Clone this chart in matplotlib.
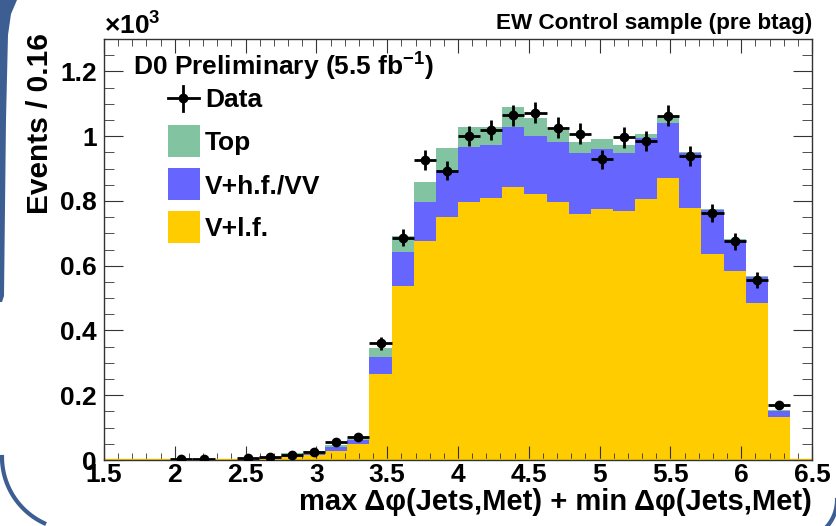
import numpy as np
import matplotlib
matplotlib.use("Agg")
import matplotlib.pyplot as plt
from matplotlib.patches import Rectangle, Polygon
from matplotlib.lines import Line2D
from matplotlib.ticker import MultipleLocator, FuncFormatter

plt.rcParams['font.family'] = ['Liberation Sans', 'DejaVu Sans']
plt.rcParams['font.weight'] = 'bold'
plt.rcParams['mathtext.fontset'] = 'custom'
plt.rcParams['mathtext.rm'] = 'Liberation Sans:bold'
plt.rcParams['mathtext.it'] = 'Liberation Sans:bold'
plt.rcParams['mathtext.default'] = 'rm'

# 32 bins between 1.5 and 6.5 (width ~0.16)
x_lo, x_hi, n_bins = 1.5, 6.5, 32

# events per bin
v_lf = [0, 0, 0, 0, 0, 0, 2, 4, 9, 15, 28, 48, 265, 538, 676, 749,
        797, 808, 844, 821, 797, 761, 774, 770, 806, 872, 779, 636, 583, 486, 132, 0]
v_hf = [0, 0, 0, 0, 0, 0, 1, 1, 3, 5, 13, 14, 54, 103, 121, 146,
        170, 164, 185, 179, 184, 186, 186, 177, 187, 170, 168, 136, 96, 78, 20, 0]
top = [0, 0, 0, 0, 0, 0, 1, 2, 9, 8, 5, 2, 28, 51, 60, 69,
       62, 57, 60, 55, 38, 36, 30, 25, 13, 18, 3, 3, 3, 4, 3, 0]
data = [0, 0, 0, 3, 3, 0, 5, 8, 16, 26, 55, 70, 360, 687, 926, 893,
        1000, 1019, 1065, 1073, 1026, 1008, 928, 996, 986, 1063, 938, 764, 676, 556, 170, 0]

c_lf = '#FFCC00'
c_hf = '#6666FF'
c_top = '#82C4A2'
frame_col = '#3D5E93'

W, H = 837, 526


def fx(px):
    return px / W


def fy(py):
    return 1 - py / H


edges = np.linspace(x_lo, x_hi, n_bins + 1)
centers = 0.5 * (edges[1:] + edges[:-1])
half = 0.5 * (edges[1] - edges[0])

lf = np.array(v_lf) / 1000.
hf = lf + np.array(v_hf) / 1000.
tt = hf + np.array(top) / 1000.
d = np.array(data, dtype=float)

fig = plt.figure(figsize=(W / 100, H / 100), dpi=100)
ax = fig.add_axes([fx(104), fy(460), fx(812) - fx(104), fy(39) - fy(460)])

ax.stairs(tt, edges, baseline=hf, fill=True, color=c_top, lw=0)
ax.stairs(hf, edges, baseline=lf, fill=True, color=c_hf, lw=0)
ax.stairs(lf, edges, fill=True, color=c_lf, lw=0)
ax.plot([x_lo, x_hi], [0, 0], color=c_lf, lw=2.5, solid_capstyle='butt', zorder=2)

m = d > 0
ax.errorbar(centers[m], d[m] / 1000., xerr=half, yerr=np.sqrt(d[m]) / 1000.,
            fmt='o', color='black', ms=6, elinewidth=2, capsize=0, zorder=5)

ax.set_xlim(x_lo, x_hi)
ax.set_ylim(0, 1.3)
ax.xaxis.set_major_locator(MultipleLocator(0.5))
ax.xaxis.set_minor_locator(MultipleLocator(0.1))
ax.yaxis.set_major_locator(MultipleLocator(0.2))
ax.yaxis.set_minor_locator(MultipleLocator(0.05))
fmt = FuncFormatter(lambda v, p: '%g' % round(v, 2))
ax.xaxis.set_major_formatter(fmt)
ax.yaxis.set_major_formatter(fmt)
ax.tick_params(which='both', direction='in', top=True, right=True, labelsize=19, color='#333333')
ax.tick_params(axis='x', which='major', length=10, pad=2)
ax.tick_params(axis='x', which='minor', length=5)
ax.tick_params(axis='y', which='major', length=14, pad=5)
ax.tick_params(axis='y', which='minor', length=7)
for s in ax.spines.values():
    s.set_color('#333333')
    s.set_linewidth(1)

# legend
ax.text(fx(133), fy(76), 'D0 Preliminary (5.5 fb$^{-1}$)', transform=fig.transFigure,
        fontsize=19, va='baseline', ha='left')
rows = [98, 141, 184, 227]
fig.add_artist(Line2D([fx(168), fx(199)], [fy(rows[0])] * 2, color='black', lw=2))
fig.add_artist(Line2D([fx(183.5)] * 2, [fy(86), fy(111)], color='black', lw=2))
fig.add_artist(Line2D([fx(183.5)], [fy(rows[0])], marker='o', color='black', ms=6))
for r, col in zip(rows[1:], [c_top, c_hf, c_lf]):
    fig.add_artist(Rectangle((fx(168), fy(r + 16)), fx(32), fy(0) - fy(32),
                             transform=fig.transFigure, color=col, lw=0))
for r, lab in zip(rows, ['Data', 'Top', 'V+h.f./VV', 'V+l.f.']):
    fig.text(fx(205), fy(r + 9), lab, fontsize=19, va='baseline', ha='left')

fig.text(fx(812), fy(29), 'EW Control sample (pre btag)', fontsize=16.2, ha='right', va='baseline')
fig.text(fx(104), fy(35), r'$\times$10$^{3}$', fontsize=19, ha='left', va='baseline')
fig.text(fx(812), fy(510), 'max Δφ(Jets,Met) + min Δφ(Jets,Met)', fontsize=21,
         ha='right', va='baseline')
fig.text(fx(40), fy(33), 'Events / 0.16', fontsize=21.5, rotation=90, ha='center', va='top')

# rounded frame pieces around the plot
fig.add_artist(Polygon([(fx(0), fy(0)), (fx(17), fy(0)), (fx(11), fy(14)), (fx(8), fy(35)),
                        (fx(6), fy(120)), (fx(4), fy(296)), (fx(2), fy(302)), (fx(0), fy(302))],
                       closed=True, transform=fig.transFigure, color=frame_col, lw=0))
t = np.radians(np.linspace(180, 245, 40))
fig.add_artist(Line2D(fx(75 + 73 * np.cos(t)), fy(457 - 73 * np.sin(t)),
                      color=frame_col, lw=3))
t2 = np.radians(np.linspace(0, 55, 20))
fig.add_artist(Line2D(fx(797 + 40 * np.cos(t2)), fy(500 + 40 * np.sin(t2)),
                      color=frame_col, lw=3))

fig.savefig('out.png', dpi=100)
